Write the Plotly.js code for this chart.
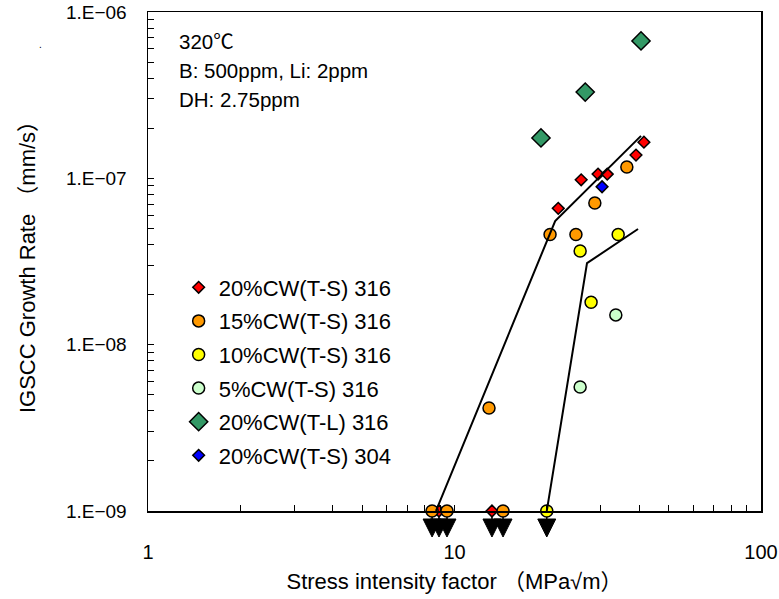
<!DOCTYPE html>
<html>
<head>
<meta charset="utf-8">
<script src="https://cdn.plot.ly/plotly-3.0.1.min.js"></script>
<style>html,body{margin:0;padding:0;background:#fff;}#chart{width:779px;height:599px;}</style>
</head>
<body>
<div id="chart"></div>
<script>
// ---- data ----
var red316X = [21.8, 25.9, 29.4, 31.5, 39.1, 41.5, 8.9, 13.25];
var red316Y = [6.6e-8, 9.8e-8, 1.06e-7, 1.06e-7, 1.38e-7, 1.65e-7, 1e-9, 1e-9];
var orange316X = [36.5, 28.7, 20.5, 24.9, 12.96, 8.45, 9.45, 14.4];
var orange316Y = [1.17e-7, 7.1e-8, 4.6e-8, 4.6e-8, 4.16e-9, 1e-9, 1e-9, 1e-9];
var yellow316X = [34.2, 25.7, 27.9, 20.0];
var yellow316Y = [4.6e-8, 3.66e-8, 1.8e-8, 1e-9];
var ltgreen316X = [33.6, 25.7];
var ltgreen316Y = [1.51e-8, 5.56e-9];
var tl316X = [40.6, 26.7, 19.15];
var tl316Y = [6.7e-7, 3.3e-7, 1.75e-7];
var blue304X = [30.3];
var blue304Y = [8.9e-8];
var line1X = [8.7, 21.3, 40.6];
var line1Y = [1e-9, 5.54e-8, 1.8e-7];
var line2X = [20.0, 27.06, 39.7];
var line2Y = [1e-9, 3.09e-8, 4.96e-8];
var detectionLimit = 1e-9;
var seriesNames = ['20%CW(T-S) 316', '15%CW(T-S) 316', '10%CW(T-S) 316', '5%CW(T-S) 316', '20%CW(T-L) 316', '20%CW(T-S) 304'];
var yTickVals = [1e-9, 1e-8, 1e-7, 1e-6];
var yTickText = ['1.E\u221209', '1.E\u221208', '1.E\u221207', '1.E\u221206'];
var xTickVals = [1, 10, 100];
var xTickText = ['1', '10', '100'];
var noteLines = ['320\u2103', 'B: 500ppm, Li: 2ppm', 'DH: 2.75ppm'];

// minor tick positions (2..9 in every decade)
function minorVals(lo, hi) {
  var v = [];
  for (var e = lo; e < hi; e++) for (var d = 2; d <= 9; d++) v.push(d * Math.pow(10, e));
  return v;
}

var FONT = 'Liberation Sans, Arial, Noto Sans CJK JP, sans-serif';
var border = {color: '#000', width: 1.5};

function pts(name, x, y, sym, size, color) {
  return {type: 'scatter', mode: 'markers', name: name, legendgroup: name, x: x, y: y, cliponaxis: false,
    marker: {symbol: sym, size: size, color: color, line: border}};
}
var traces = [
  pts(seriesNames[0], red316X, red316Y, 'diamond', 9, '#FF0000'),
  pts(seriesNames[1], orange316X, orange316Y, 'circle', 12, '#FF9900'),
  pts(seriesNames[2], yellow316X, yellow316Y, 'circle', 12, '#FFFF00'),
  pts(seriesNames[3], ltgreen316X, ltgreen316Y, 'circle', 12, '#CCFFCC'),
  pts(seriesNames[4], tl316X, tl316Y, 'diamond', 14, '#339966'),
  pts(seriesNames[5], blue304X, blue304Y, 'diamond', 9, '#0000FF'),
  {type: 'scatter', mode: 'lines', x: line1X, y: line1Y, showlegend: false, cliponaxis: false,
   line: {color: '#000', width: 2}},
  {type: 'scatter', mode: 'lines', x: line2X, y: line2Y, showlegend: false, cliponaxis: false,
   line: {color: '#000', width: 2}}
];

// downward arrows under the points at the detection limit
var arrowX = [];
[[red316X, red316Y], [orange316X, orange316Y], [yellow316X, yellow316Y]].forEach(function (s) {
  s[1].forEach(function (v, i) { if (v <= detectionLimit) arrowX.push(s[0][i]); });
});
var shapes = [];
arrowX.forEach(function (xv) {
  shapes.push({type: 'path', xref: 'x', yref: 'paper', xsizemode: 'pixel', ysizemode: 'pixel',
    xanchor: xv, yanchor: 0, path: 'M 0 -6 L 0 -10', line: {color: '#000', width: 1.5}, layer: 'above'});
  shapes.push({type: 'path', xref: 'x', yref: 'paper', xsizemode: 'pixel', ysizemode: 'pixel',
    xanchor: xv, yanchor: 0, path: 'M -9 -8 L 9 -8 L 0 -26 Z', fillcolor: '#000',
    line: {color: '#000', width: 1}, layer: 'above'});
});

var annotations = noteLines.map(function (t, i) {
  return {xref: 'paper', yref: 'paper', x: 0.048, y: 0.94 - i * 0.058, xanchor: 'left', yanchor: 'middle',
    text: t, showarrow: false, font: {family: FONT, size: 20.5, color: '#000'}};
});
annotations.push({xref: 'paper', yref: 'paper', x: -0.181, y: 0.95, text: '.', showarrow: false,
  font: {family: FONT, size: 10, color: '#000'}});

var layout = {
  width: 779, height: 599,
  margin: {l: 148, r: 18, t: 12, b: 88, pad: 0},
  paper_bgcolor: '#fff', plot_bgcolor: '#fff',
  font: {family: FONT, color: '#000', size: 19},
  showlegend: true,
  legend: {x: 0.05, y: 0.49, xanchor: 'left', yanchor: 'top', bgcolor: 'rgba(0,0,0,0)',
    borderwidth: 0, font: {family: FONT, size: 22, color: '#000'}, tracegroupgap: 2},
  xaxis: {type: 'log', range: [0, 2], tickvals: xTickVals, ticktext: xTickText,
    ticks: 'inside', ticklen: 6, tickcolor: '#000', ticklabelstandoff: 22,
    minor: {tickmode: 'array', tickvals: minorVals(0, 2), ticks: 'inside', ticklen: 6, tickcolor: '#000', showgrid: false},
    showgrid: false, zeroline: false, showline: true, mirror: true, linecolor: '#000', linewidth: 1.5,
    tickfont: {family: FONT, size: 20},
    title: {text: 'Stress intensity factor \uff08MPa\u221am\uff09', font: {family: FONT, size: 22}, standoff: 12},
    automargin: false},
  yaxis: {type: 'log', range: [-9, -6], tickvals: yTickVals, ticktext: yTickText,
    ticks: 'inside', ticklen: 6, tickcolor: '#000', ticklabelstandoff: 16,
    minor: {tickmode: 'array', tickvals: minorVals(-9, -6), ticks: 'inside', ticklen: 6, tickcolor: '#000', showgrid: false},
    showgrid: false, zeroline: false, showline: true, mirror: true, linecolor: '#000', linewidth: 1.5,
    tickfont: {family: FONT, size: 19},
    title: {text: 'IGSCC Growth Rate \uff08mm/s\uff09', font: {family: FONT, size: 22}, standoff: 24},
    automargin: false},
  shapes: shapes,
  annotations: annotations
};

Plotly.newPlot('chart', traces, layout, {displayModeBar: false, staticPlot: true});
</script>
</body>
</html>
